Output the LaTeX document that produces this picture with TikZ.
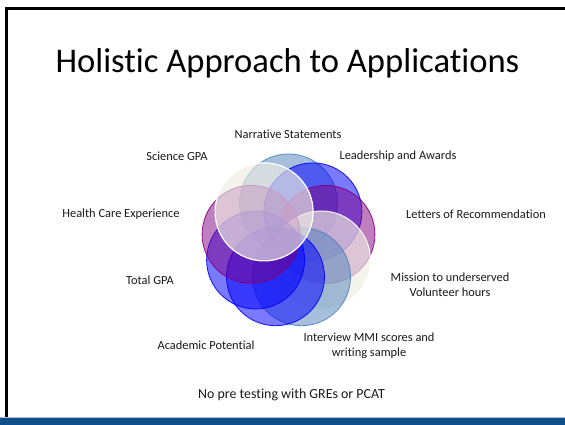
\documentclass[tikz,border=0pt]{standalone}
\usepackage{fontspec}
\setmainfont[Ligatures={NoCommon}]{Carlito}
\definecolor{sbC}{RGB}{79,129,189}
\definecolor{blC}{RGB}{0,0,255}
\definecolor{puC}{RGB}{128,0,128}
\definecolor{bgC}{RGB}{238,236,225}
\definecolor{barC}{RGB}{16,78,140}
\definecolor{barLine}{RGB}{180,196,216}
\definecolor{txtC}{RGB}{26,26,26}
\begin{document}
\begin{tikzpicture}[x=1pt,y=-1pt,
  circ/.style={circle,minimum size=98pt,inner sep=0pt,line width=0.8pt},
  sbc/.style={circ,fill=sbC,fill opacity=0.5,draw=sbC,draw opacity=0.9},
  blc/.style={circ,fill=blC,fill opacity=0.52,draw=blC,draw opacity=0.9},
  puc/.style={circ,fill=puC,fill opacity=0.5,draw=puC,draw opacity=0.9},
  bgc/.style={circ,fill=bgC,fill opacity=0.65,draw=white,draw opacity=0.9,line width=1pt},
  lab/.style={font=\fontsize{12.4}{15}\selectfont,text=txtC,align=center,inner sep=0pt}]
\useasboundingbox (0,0) rectangle (565,425);
\fill[white] (0,0) rectangle (565,425);
% frame
\fill[black] (5,7) rectangle (565,10);
\fill[black] (5,7) rectangle (8,418);
\fill[barC] (0,418) rectangle (565,425);
\draw[barLine,line width=0.8pt] (0,417.4) -- (565,417.4);
% title
\node[font=\fontsize{34.6}{42}\selectfont,inner sep=0pt] (title) at (287.5,63) {Holistic Approach to Applications};
% circles
\node[sbc] (cA) at (288.5,203) {};
\node[blc] (cB) at (312.9,211.9) {};
\node[puc] (cC) at (325.9,234.4) {};
\node[bgc] (cD) at (321.4,260) {};
\node[sbc] (cE) at (301.5,276.7) {};
\node[blc] (cF) at (275.5,276.7) {};
\node[blc] (cG) at (255.6,260) {};
\node[puc] (cH) at (251.1,234.4) {};
\node[bgc,line width=1.2pt,draw opacity=1] (cI) at (264.1,211.9) {};
% labels
\node[lab] (lNar) at (288,134) {Narrative Statements};
\node[lab] (lSci) at (177,156) {Science GPA};
\node[lab] (lLead) at (398,156) {Leadership and Awards};
\node[lab] (lHealth) at (121,214) {Health Care Experience};
\node[lab] (lLet) at (476,214) {Letters of Recommendation};
\node[lab] (lTot) at (150,280) {Total GPA};
\node[lab] (lMis) at (450,285) {Mission to underserved\\Volunteer hours};
\node[lab] (lAca) at (206,345) {Academic Potential};
\node[lab] (lInt) at (369,345.5) {Interview MMI scores and\\writing sample};
\node[font=\fontsize{13.9}{16}\selectfont,text=txtC,inner sep=0pt] (lNo) at (291.5,395) {No pre testing with GREs or PCAT};
\end{tikzpicture}
\end{document}
